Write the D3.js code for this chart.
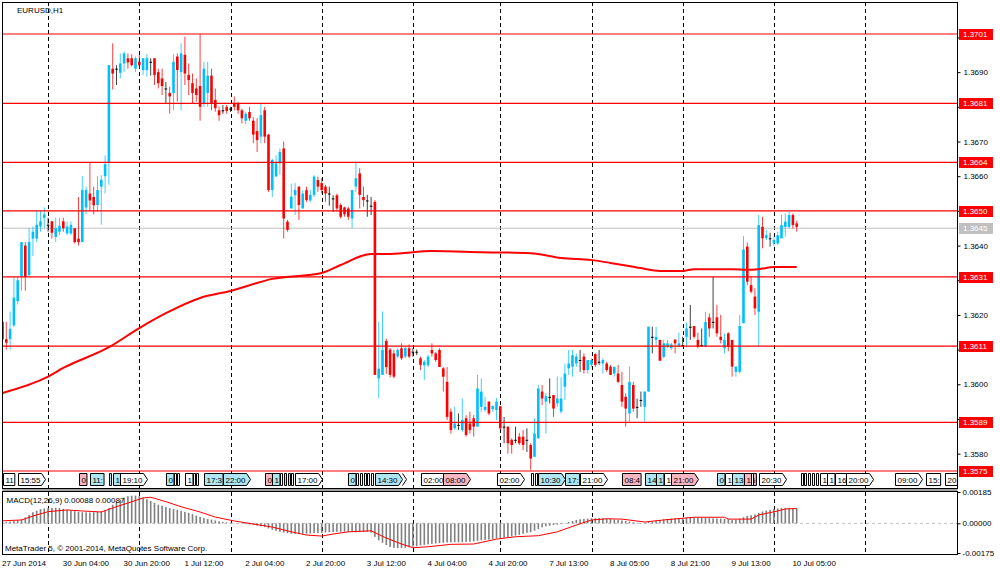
<!DOCTYPE html>
<html>
<head>
<meta charset="utf-8">
<script src="https://cdn.jsdelivr.net/npm/d3@7"></script>
<style>
  body { margin: 0; background: #fff; }
  svg { display: block; font-family: "Liberation Sans", Arial, sans-serif; font-size: 8px; }
  .axis path.domain { display: none; }
  .axis text { fill: #000; font-size: 8px; font-family: "Liberation Sans", Arial, sans-serif; }
  .axis line { stroke: #000; }
</style>
</head>
<body>
<svg id="chart" width="1000" height="574"></svg>
<script>
// ---- data ----
var symbolTitle = "EURUSD,H1";
var macdTitle = "MACD(12,26,9) 0.00088 0.00087";
var copyright = "MetaTrader 5, \u00a9 2001-2014, MetaQuotes Software Corp.";

// bar index of each day start (vertical grid)
var dayStarts = [12, 36, 60, 84, 108, 131, 155, 179, 203, 227];

// time axis labels: bar index, text
var timeLabels = [
  [0, "27 Jun 2014"], [16, "30 Jun 04:00"], [32, "30 Jun 20:00"], [48, "1 Jul 12:00"],
  [64, "2 Jul 04:00"], [80, "2 Jul 20:00"], [96, "3 Jul 12:00"], [112, "4 Jul 04:00"],
  [128, "4 Jul 20:00"], [144, "7 Jul 13:00"], [160, "8 Jul 05:00"], [176, "8 Jul 21:00"],
  [192, "9 Jul 13:00"], [208, "10 Jul 05:00"]
];

// H1 candles: open, high, low, close in pips above 1.3500
var candles = [
  [118,122,111,113],[113,118,110,112],[113,121,110,116],[117,131,116.5,125],[124,131,123,130],
  [131,141,127,141],[140,141,127,131],[131.5,145,131,141],[142,145.5,137,144],[142,150,141,146],
  [145.5,150,144,147],[148,151,145,149],[146,148,144,146],[147,147,142,143.7],[142.5,148,141,145],
  [144,148,143,145.7],[147,148,144,145],[143.5,147,143,145.5],[143.5,147,143,146],[145,145,140.6,141],
  [142,154,140,141],[141,160,141,156],[151,157,149,156],[155,164,150,153],[154,157,149,151.6],
  [151.7,160,149.7,156],[157,160.3,146,159],[160,166,155,163.5],[164,192,157.5,192],[191,198.3,185,189.6],
  [191,192,186.3,191],[189.8,195.4,188.2,192.5],[192.5,196,190,195.4],[194,195.4,191,192.8],[194,195.2,191.6,192],
  [191,194.5,190,194],[193,195,191,192],[190.6,194,189.2,194],[190.6,195.2,188.7,194],[193,194,189,193],
  [194,194,186.3,189.2],[190,191,185.3,186.8],[188.2,191,183.4,186],[185.3,187.2,180.8,185.3],[184,185.8,178.1,183],
  [184,195.2,179,193],[194.5,195.4,181.5,190.6],[190,198.3,179,195.4],[195,200.2,186.3,189.6],[189.2,192.5,183.4,187.7],
  [186.8,189.6,181,184],[185.3,188.2,181.5,183.4],[186,201,176,180],[181,193,180,191],[184,193,180,189],
  [189,191,179,181],[182,185.3,178.6,179.6],[179,180,176,177.6],[179,180.5,178,179],[180,180.5,178,178.8],
  [179.5,180,178.5,179.5],[181,183,179,180],[181,181.5,178,179],[179,179.5,175.2,176.7],[176,178.5,175,178],
  [178.5,180,176,176.7],[176,177,169.5,172],[173,176.7,167,170.4],[171.4,181,169.5,177.6],[179,180,169.5,171.4],
  [172,172.2,155.5,156],[156,165,154,164.7],[159.9,166,159.9,163.7],[163.7,168,160.4,167],[168,170,142,147.8],
  [146.9,147.4,144,144.5],[150.7,157.9,150.7,154.1],[154.5,158,148.8,156],[157,157,147.4,151.7],[150.7,156,150.7,155],
  [156,157,152.6,153.1],[153,156,152.6,154.6],[154.6,160.3,154,159.9],[158.9,159.9,155.5,157],[158,159.4,155,156],
  [157,157.5,152.6,155],[155,157,151.5,155],[153.6,154.5,149.7,153.6],[154.5,155,149.8,150.7],[151.7,152.2,147.8,148.3],
  [151,151.2,148.3,149],[150.7,151.2,147.4,148.3],[147.8,156,145,156],[157,164.2,155.5,159.4],[160.8,162.3,150.7,154.6],
  [154,157,151.2,153.1],[153,154.6,148.3,153],[151.5,154,148.8,151.5],[152.6,153.1,102.7,102.7],[101.7,118,96,104.5],
  [102.7,121,102.7,109.9],[112.5,113.2,103,105],[110,110.5,102,102.7],[108.9,109.9,101.7,102.2],[108,110.4,107.5,109.9],
  [110.4,111.8,107,107.5],[108,111,107.5,110.4],[110.4,111.5,107.5,108],[109.4,110.4,108,109.4],[109.4,110,108.4,109.4],
  [107.5,108,104.1,105.6],[105.5,107,101.2,106.5],[105.5,108.5,105,108],[109.9,111.8,108,108.9],[108.9,109.4,106.5,107],
  [109.9,110.4,105,105],[104.6,105,97.9,102.2],[100.7,105,89.7,90.6],[92.1,93,85.8,86.8],[87.3,93.5,86.8,88.7],
  [88.3,91.6,86.8,88.3],[86.8,95.9,86.3,89.7],[90.2,91.1,84.9,85.4],[88.7,92.1,85.8,86.8],[90.2,91.1,84.9,87.8],
  [87.8,102.7,87.8,98.8],[93.5,101.7,92.1,97.9],[92.6,96.4,92.1,93.5],[95,95,91.1,91.6],[92.8,94,92.1,93.7],
  [92.6,96,89.7,95],[93.7,93.7,86.8,87.3],[87.8,90.6,83,87.8],[87.8,87.8,80,83],[84,84.4,80,82.5],
  [84,87.8,83,84],[84.9,86,82.5,83],[84.9,86.8,81,82.5],[84,87.3,80.5,84],[82.5,83,75.3,78.6],
  [79.1,90.2,79.1,85.8],[84.4,99.8,84.4,98.8],[97.9,99.8,94,95.9],[95,97.4,85.8,96.6],[96.4,101.7,94.5,96.4],
  [96.9,96.9,90.6,93],[94.5,102.2,93.5,95.9],[92.1,102,91.5,95.9],[99.3,106,95.5,103.1],[104.6,109.9,102.7,106],
  [105.1,109.9,102.2,108.4],[106,108.9,105,108],[107,109.9,103.6,107],[108,108.9,103.1,104.1],[104.1,107,103.1,107],
  [105.6,107.5,105,107],[108.7,108.9,105,105.6],[106.5,109.9,105.6,106.5],[106,107.5,103.1,107],[106,106.5,103.6,104.1],
  [105.1,105.6,102.7,102.7],[103.1,105.1,102.2,105],[103.1,105.6,100.3,100.7],[99.8,103.6,93.5,95],[96.4,97.4,87.8,93],
  [91.6,105.1,89.2,100.7],[99.8,100.7,92.1,93],[93.5,95.9,90.2,93.5],[95.5,97.9,93.5,95.5],[93.5,97.9,89.2,97.9],
  [97.9,116.6,97.9,116.6],[113.7,116.6,108.9,113.7],[112.8,116.6,110.8,113.7],[112.8,112.8,106.8,106.8],[107.9,112.8,107.5,111.8],
  [110.8,112.8,110.4,111.8],[110.4,112,110,111.5],[112.9,112.9,108.9,111.8],[110.8,114.9,110.8,111.8],[111.3,113.7,110.8,111.3],
  [113.7,117.8,110.8,116.1],[116.6,122.9,112.8,116.6],[116.8,116.8,113.2,113.7],[112.8,114.9,110.4,110.8],[111.3,116.1,110.8,111.3],
  [110.8,120.9,110.8,118],[119.3,120.4,113.7,116.1],[118,131,116.1,118],[119.3,122.9,113.7,114.7],[113.7,120,111.8,112.8],
  [110.4,114.7,108.9,112.8],[114.7,115,109.5,110.8],[112.8,112.8,102.2,105.1],[103.6,105.1,102.2,105.1],[103.6,120,103.1,116.8],
  [117.6,142.7,117.6,138.9],[139.7,140.8,128.6,129.6],[128.6,131,126.2,126.7],[125.3,127.7,120,121.9],[120.9,148.8,110.8,145.9],
  [145.4,148.3,139.2,142.1],[142.1,144.5,141.6,143],[142.1,143.7,139.7,142.1],[140.6,142.6,139.7,141.6],[140.6,144,140.2,143],
  [142.1,148.8,142.1,145.9],[145.4,149.3,142.6,146.9],[145.4,149.8,144.9,148.8],[148.8,149.3,144.9,145.9],[146.4,147.2,144,145.4]
];

// moving average line: bar index, price
var maLine = [
  [0,1.35975],[12,1.36022],[16,1.36047],[28,1.36107],[36,1.36162],[43,1.36205],[52,1.36249],
  [60,1.36269],[71,1.36304],[84,1.36321],[89,1.36344],[97,1.36376],[102,1.36376],[113,1.36384],
  [126,1.36381],[139,1.36378],[147,1.36364],[155,1.36358],[160,1.3635],[168,1.36335],[173,1.36327],
  [179,1.36327],[182,1.36332],[192,1.36332],[196,1.3633],[199,1.36332],[203,1.36338],[209,1.36338]
];

// horizontal lines drawn on the chart
var levels = [1.3701, 1.3681, 1.3664, 1.3650, 1.3631, 1.3611, 1.3589, 1.3575];
var bidPrice = 1.3645;
var priceTicks = d3.range(8, 21).map(function(k) { return 1.35 + k / 1000; });

// MACD histogram per bar, in 0.00001 units
var macdHist = [
  8,9,10,14,18,24,35,50,66,75,
  84,88,90,91,92,90,86,80,76,72,
  68,66,65,64,66,67,70,78,90,110,
  128,140,152,160,163,164,160,152,143,132,
  120,110,104,96,90,84,80,74,68,62,
  54,46,38,32,26,22,17,12,8,6,
  4,2,0,-2,-4,-7,-10,-14,-18,-22,
  -30,-38,-44,-50,-54,-58,-61,-63,-63,-62,
  -61,-60,-58,-57,-56,-54,-52,-51,-50,-50,
  -49,-50,-51,-52,-52,-51,-50,-55,-80,-100,
  -115,-128,-140,-144,-146,-146,-144,-141,-138,-135,
  -130,-127,-124,-121,-119,-117,-115,-113,-112,-111,
  -112,-111,-110,-108,-106,-103,-100,-98,-96,-92,
  -90,-88,-85,-81,-77,-72,-68,-62,-56,-52,
  -44,-34,-24,-18,-14,-10,-8,-4,2,8,
  14,20,24,26,28,30,31,31,30,28,
  26,23,20,17,14,10,6,3,2,4,
  8,12,15,20,24,26,28,30,31,32,
  33,33,34,33,32,32,31,30,29,28,
  26,24,20,22,28,36,44,48,52,62,
  70,76,80,84,88,90,91,92,90,88
];
// MACD signal line: bar index, value in 0.00001 units
var macdSignal = [
  [0,15],[5,20],[8,43],[12,69],[17,79],[21,73],[26,67],[29,91],[33,120],[37,150],[39,154],
  [43,128],[47,98],[52,67],[56,37],[61,14],[66,-4],[71,-22],[76,-50],[80,-69],[84,-75],
  [87,-63],[91,-50],[97,-44],[101,-87],[105,-122],[108,-144],[112,-138],[118,-124],[124,-122],
  [130,-93],[135,-79],[141,-73],[146,-50],[151,-10],[155,20],[159,27],[163,25],[169,8],
  [174,20],[182,36],[190,36],[191,25],[197,25],[199,49],[204,73],[206,85],[209,87]
];
var macdTicks = [0.00185, 0, -0.00175];

// calendar events: bar index, text, colour (w/c/p), arrows
var events = [
  [0,"11","w",0],[4,"15:55","w",1],[20,"0","p",0],[23,"11:","c",0],[28,"","c",0],[29,"1","c",0],
  [31,"19:10","w",1],[43,"0","c",0],[45,"","w",0],[46,"","w",0],[48,"1","w",0],[50,"","w",0],
  [51,"","w",0],[53,"17:3","c",0],[58,"22:00","c",1],[69,"0","p",0],[71,"1","c",0],[73,"","w",0],
  [74,"","c",0],[75,"","c",0],[76,"","w",0],[77,"17:00","w",1],[91,"0","c",0],[93,"","w",0],
  [94,"","w",0],[95,"","w",0],[96,"","w",0],[97,"","w",0],[98,"14:30","c",2],[110,"02:00","w",1],
  [116,"08:00","p",1],[130,"02:00","w",1],[139,"","w",0],[140,"","w",0],[141,"10:30","c",1],
  [148,"17:","c",0],[152,"21:00","w",1],[163,"08:4","p",0],[169,"14","c",0],[172,"1","c",0],
  [174,"1","w",0],[176,"21:00","p",1],[188,"0","c",0],[190,"1","w",0],[192,"13","c",0],
  [195,"16","p",0],[197,"","w",0],[199,"20:30","w",1],[210,"","w",0],[211,"","w",0],[212,"","w",0],
  [213,"","w",0],[214,"","w",0],[215,"1:","w",0],[217,"1","w",0],[219,"16","w",0],
  [222,"20:00","w",1],[235,"09:00","w",1],[243,"15:","w",0],[248,"20","w",0]
];

// ---- layout ----
var plotL = 2, plotR = 957, mainT = 2, mainB = 488, macdT = 491, macdB = 554;
var upColor = "#00bfff", downColor = "#ff0000", dojiColor = "#000000";
var eventFill = { w: "#ffffff", c: "#aee6f2", p: "#f7b6c2" };

var x = d3.scaleLinear().domain([0, 250]).range([2.5, 952.5]);
var y = d3.scaleLinear().domain([1.3575, 1.3701]).range([471, 34]);
var yM = d3.scaleLinear().domain([-0.00175, 0.00185]).range([553, 492]);
var pip = function(v) { return 1.35 + v / 10000; };

var svg = d3.select("#chart");
var defs = svg.append("defs");
defs.append("clipPath").attr("id", "clipMain").append("rect")
  .attr("x", plotL).attr("y", mainT).attr("width", plotR - plotL).attr("height", mainB - mainT);
defs.append("clipPath").attr("id", "clipMacd").append("rect")
  .attr("x", plotL).attr("y", macdT).attr("width", plotR - plotL).attr("height", macdB - macdT);

// vertical dashed grid
svg.append("g").selectAll("line").data(dayStarts).join("line")
  .attr("x1", function(d) { return Math.round(x(d)) + 0.5; })
  .attr("x2", function(d) { return Math.round(x(d)) + 0.5; })
  .attr("y1", mainT).attr("y2", macdB)
  .attr("stroke", "#000").attr("stroke-dasharray", "4,3");

var main = svg.append("g").attr("clip-path", "url(#clipMain)");

// bid line
main.append("line")
  .attr("x1", plotL).attr("x2", plotR)
  .attr("y1", y(bidPrice)).attr("y2", y(bidPrice))
  .attr("stroke", "#c0c0c0");

// candles
function candleColor(d) {
  if (d[3] > d[0]) return upColor;
  if (d[3] < d[0]) return downColor;
  return dojiColor;
}
main.append("g").selectAll("line").data(candles).join("line")
  .attr("x1", function(d, i) { return x(i); })
  .attr("x2", function(d, i) { return x(i); })
  .attr("y1", function(d) { return y(pip(d[1])); })
  .attr("y2", function(d) { return y(pip(d[2])); })
  .attr("stroke", candleColor).attr("stroke-opacity", 0.75).attr("stroke-width", 1);
main.append("g").selectAll("rect").data(candles).join("rect")
  .attr("x", function(d, i) { return x(i) - 1.3; })
  .attr("width", 2.6)
  .attr("y", function(d) { return y(pip(Math.max(d[0], d[3]))); })
  .attr("height", function(d) { return Math.max(1, Math.abs(y(pip(d[0])) - y(pip(d[3])))); })
  .attr("fill", candleColor);

// moving average
main.append("path").datum(maLine)
  .attr("d", d3.line().curve(d3.curveMonotoneX)
    .x(function(d) { return x(d[0]); }).y(function(d) { return y(d[1]); }))
  .attr("fill", "none").attr("stroke", "#ff0000").attr("stroke-width", 2);

// horizontal levels
main.append("g").selectAll("line").data(levels).join("line")
  .attr("x1", plotL).attr("x2", plotR)
  .attr("y1", function(d) { return y(d); }).attr("y2", function(d) { return y(d); })
  .attr("stroke", "#ff0000").attr("stroke-width", 1.2);

// calendar events row
var evG = svg.append("g").attr("clip-path", "url(#clipMain)");
events.forEach(function(e) {
  var x0 = Math.round(x(e[0])) + 0.5, top = 473.5, bot = 485.5, mid = 479.5;
  var g = evG.append("g");
  var path = g.append("path");
  var t = g.append("text").attr("x", x0 + 2).attr("y", 482.5).text(e[1]);
  var w = e[1] ? t.node().getComputedTextLength() + 3 : 2;
  var d = "M" + x0 + "," + top + "H" + (x0 + w);
  if (e[3]) {
    d += "L" + (x0 + w + 4) + "," + mid + "L" + (x0 + w) + "," + bot;
  } else {
    d += "V" + bot;
  }
  d += "H" + x0 + "Z";
  path.attr("d", d).attr("fill", eventFill[e[2]]).attr("stroke", "#000");
  for (var k = 1; k < e[3]; k++) {
    var xa = x0 + w + 4 * k;
    g.append("path")
      .attr("d", "M" + xa + "," + top + "L" + (xa + 4) + "," + mid + "L" + xa + "," + bot)
      .attr("fill", "none").attr("stroke", "#000");
  }
});

svg.append("text").attr("x", 17).attr("y", 12.5).text(symbolTitle);

// MACD window
var macd = svg.append("g").attr("clip-path", "url(#clipMacd)");
macd.append("line")
  .attr("x1", plotL).attr("x2", plotR).attr("y1", yM(0)).attr("y2", yM(0))
  .attr("stroke", "#c0c0c0").attr("stroke-dasharray", "3,3");
macd.append("g").selectAll("rect").data(macdHist).join("rect")
  .attr("x", function(d, i) { return x(i) - 0.8; })
  .attr("width", 1.6)
  .attr("y", function(d) { return yM(Math.max(d, 0) / 100000); })
  .attr("height", function(d) { return Math.abs(yM(0) - yM(d / 100000)); })
  .attr("fill", "#808080");
macd.append("path").datum(macdSignal)
  .attr("d", d3.line().x(function(d) { return x(d[0]); }).y(function(d) { return yM(d[1] / 100000); }))
  .attr("fill", "none").attr("stroke", "#ff0000").attr("stroke-width", 1);
svg.append("text").attr("x", 6.5).attr("y", 503).text(macdTitle);
svg.append("text").attr("x", 5).attr("y", 551).text(copyright);

// frames
svg.append("rect").attr("x", plotL + 0.5).attr("y", mainT + 0.5)
  .attr("width", plotR - plotL).attr("height", mainB - mainT)
  .attr("fill", "none").attr("stroke", "#000");
svg.append("rect").attr("x", plotL + 0.5).attr("y", mainB + 1)
  .attr("width", plotR - plotL).attr("height", 2).attr("fill", "#a0a0a0");
svg.append("rect").attr("x", plotL + 0.5).attr("y", macdT + 0.5)
  .attr("width", plotR - plotL).attr("height", macdB - macdT)
  .attr("fill", "none").attr("stroke", "#000");

// price axis (tick labels that sit under a level label are hidden, as in the terminal)
var labelled = levels.concat([bidPrice]);
svg.append("g").attr("class", "axis").attr("transform", "translate(" + (plotR + 0.5) + ",0)")
  .call(d3.axisRight(y).tickValues(priceTicks).tickSize(3).tickPadding(3)
    .tickFormat(function(d) {
      var covered = labelled.some(function(p) { return Math.abs(y(p) - y(d)) < 10; });
      return covered ? "" : d.toFixed(4);
    }));

// level labels
var lab = svg.append("g");
labelled.forEach(function(p) {
  var bid = p === bidPrice;
  lab.append("rect").attr("x", 959).attr("y", Math.round(y(p)) - 5)
    .attr("width", 34).attr("height", 11).attr("fill", bid ? "#c0c0c0" : "#ff0000");
  lab.append("text").attr("x", 963).attr("y", Math.round(y(p)) + 3)
    .attr("fill", "#fff").text(p.toFixed(4));
});

// MACD axis
svg.append("g").attr("class", "axis").attr("transform", "translate(" + (plotR + 0.5) + ",0)")
  .call(d3.axisRight(yM).tickValues(macdTicks).tickSize(3).tickPadding(2)
    .tickFormat(function(d) { return d.toFixed(5); }));

// time axis
var tAxis = svg.append("g").attr("class", "axis").attr("transform", "translate(0," + (macdB + 0.5) + ")")
  .call(d3.axisBottom(x).tickValues(timeLabels.map(function(d) { return d[0]; }))
    .tickSize(0).tickPadding(6)
    .tickFormat(function(d) { return timeLabels.find(function(t) { return t[0] === d; })[1]; }));
tAxis.selectAll("text").attr("text-anchor", "start").attr("dx", -1);
</script>
</body>
</html>
